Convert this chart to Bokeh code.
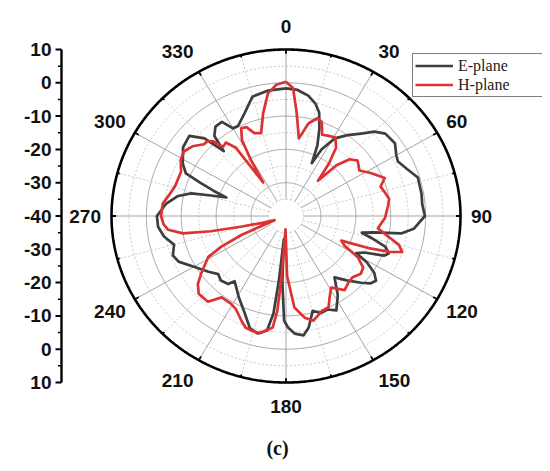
import numpy as np
from bokeh.plotting import figure
from bokeh.models import Range1d, Legend, LegendItem, Label
from bokeh.core.properties import value
from bokeh.embed import file_html
from bokeh.resources import INLINE

# ---------------- data ----------------
e_angle = [0, 5, 10, 14, 17, 20, 23, 25, 27, 31, 36, 41, 45, 49, 55, 60, 63, 68, 73, 80, 85, 90,
           96, 99, 101, 103, 105, 108, 111, 113, 116, 119, 121, 124, 127, 130, 133, 138, 143, 148,
           153, 157, 161, 165, 169, 172, 176, 179, 181, 183, 185, 186, 187, 189, 193, 197, 203, 209,
           213, 217, 219, 224, 228, 233, 240, 246, 250, 255, 260, 265, 270, 276, 281, 284, 286, 288,
           290, 292, 294, 298, 305, 311, 315, 317.5, 319.5, 323, 327, 330, 333, 339, 345, 352]
e_db = [-1.7, -2.0, -3.3, -5.2, -7.5, -12, -17, -22.5, -17.5, -12.8, -10, -7.2, -4.2, -2.3, -1.9, -3.5,
        -4, -2.5, -0.5, -0.6, -0.8, -0.2, -3.2, -6.6, -14.3, -17.7, -14.8, -10, -8.5, -9.5, -15, -17,
        -13, -9.5, -7.7, -8.5, -10.6, -14, -16.9, -12, -8.2, -9.5, -9.2, -10.5, -5.9, -3.8, -4.6, -6.5,
        -8.6, -20, -33, -20.5, -10.5, -5.2, -3.8, -4.7, -9.1, -12.1, -14, -15.5, -13.7, -13.1, -13.9,
        -12.2, -9.5, -6.3, -5.5, -6.8, -4.5, -3.2, -3.0, -5.4, -8.5, -12, -17.7, -22, -18, -13.7, -8.6,
        -6.5, -4, -3.3, -7, -13.6, -8.4, -6.4, -6.3, -9.6, -9.7, -6.9, -2.9, -2.0]

h_angle = [0, 3, 5.5, 9, 13, 17, 20, 23, 27, 31, 35, 38, 41, 43.5, 47, 51, 57, 62, 68, 72, 76, 80, 84,
           91, 98, 102, 105, 108, 110, 112, 115, 118, 121, 125, 129, 134, 138, 143, 149, 153, 156, 160,
           166, 170, 175, 179, 182, 184, 185, 186.5, 192, 196, 199, 202, 207, 211, 217, 221, 227, 231,
           234.5, 241, 243.5, 246, 249, 253, 256, 258, 260, 263, 266, 270, 276, 281, 286, 294, 299,
           303.5, 308, 312.5, 315, 317, 319, 322, 325, 327, 329, 331, 334, 337, 340, 344, 348, 352, 356]
h_db = [0.3, -1.5, -8.5, -16.4, -11.5, -9.3, -10, -13.5, -13, -12.5, -15, -20, -26, -19, -15, -13.6,
        -14.9, -12.5, -9.5, -11.5, -10.8, -10, -10.6, -11.6, -13.4, -10, -6.5, -5.0, -8.5, -14, -22.5,
        -21, -16, -13, -12.4, -13.5, -13.2, -12.1, -14.9, -12.5, -10, -9.7, -7.6, -9, -12.4, -22, -36,
        -21, -11.4, -6.3, -4, -4.2, -4.5, -6, -8.5, -9.3, -9.4, -5.9, -5.8, -7.5, -10.1, -14.5, -19.2,
        -26, -36.5, -33, -27, -18, -10, -6, -4.8, -4.2, -4.5, -6, -7, -7.1, -5.5, -4.9, -6, -8.1, -8.2,
        -9.3, -12.5, -12, -15, -28, -20.7, -14, -10.7, -11, -13.5, -14.1, -8.5, -2.8, -0.5]

angle_ticks = [0, 30, 60, 90, 120, 150, 180, 210, 240, 270, 300, 330]
angle_labels = ["0", "30", "60", "90", "120", "150", "180", "210", "240", "270", "300", "330"]
r_min, r_max, r_step = -40, 10, 10
radial_labels = ["10", "0", "-10", "-20", "-30", "-40", "-30", "-20", "-10", "0", "10"]
series_names = ["E-plane", "H-plane"]
series_colors = ["#3e3e3e", "#de3131"]

# ---------------- helpers ----------------
R = r_max - r_min


def polar(theta_deg, db):
    t = np.radians(np.asarray(theta_deg, dtype=float))
    r = np.clip(np.asarray(db, dtype=float) - r_min, 0, None)
    return r * np.sin(t), r * np.cos(t)


W, H = 542, 463
sx, sy = 3.49, 3.33            # px per radial unit (horizontal / vertical)
cx_px, cy_px = 285.5, 215.5
x0 = -cx_px / sx
y1 = cy_px / sy
p = figure(width=W, height=H, output_backend="svg", toolbar_location=None,
           x_range=Range1d(x0, x0 + W / sx), y_range=Range1d(y1 - H / sy, y1),
           x_axis_type=None, y_axis_type=None, min_border=0)
p.outline_line_color = None
p.grid.visible = False
p.background_fill_color = "white"

phi = np.linspace(0, 360, 721)
# circular grid
for v in range(r_min + 5, r_max, 5):
    gx, gy = polar(phi, np.full_like(phi, v))
    if (v - r_min) % r_step == 0:
        p.line(gx, gy, line_color="#9a9a9a", line_width=0.9)
    else:
        p.line(gx, gy, line_color="#c4c4c4", line_width=0.9, line_dash="2 2")
# spokes
r_in = r_min + 5
for a in range(0, 360, 15):
    lx, ly = polar([a, a], [r_in, r_max])
    if a % 30 == 0:
        p.line(lx, ly, line_color="#9a9a9a", line_width=0.9)
    else:
        p.line(lx, ly, line_color="#c4c4c4", line_width=0.9, line_dash="2 2")

# data curves
renderers = []
for ang, db, col in [(e_angle, e_db, series_colors[0]), (h_angle, h_db, series_colors[1])]:
    ax_, ay_ = polar(list(ang) + [ang[0] + 360], list(db) + [db[0]])
    renderers.append(p.line(ax_, ay_, line_color=col, line_width=2.7, line_join="round"))

# outer circle and ticks
ox, oy = polar(phi, np.full_like(phi, r_max))
p.line(ox, oy, line_color="black", line_width=2.6)
for a in range(0, 360, 15):
    ln = 1.3 if a % 30 == 0 else 0.7
    tx, ty = polar([a, a], [r_max - ln, r_max])
    p.line(tx, ty, line_color="black", line_width=1.8)

# angular labels
RX, RY = 185 / sx, 190 / sy
for a, lab in zip(angle_ticks, angle_labels):
    t = np.radians(a)
    s = np.sin(t)
    align = "center" if abs(s) < 1e-6 else ("left" if s > 0 else "right")
    p.text([RX * s], [RY * np.cos(t)], text=[lab], text_align=align,
           text_baseline="middle", text_font=value("Liberation Sans"), text_font_style="bold",
           text_font_size="19px", text_color="#111111")

# left radial axis
axis_x = 61 / sx + x0
yv = np.arange(-R, R + 1, r_step)
p.line([axis_x, axis_x], [-R, R], line_color="black", line_width=2.4)
for yy in np.arange(-R, R + 1, r_step / 2):
    major = (yy % r_step) == 0
    ln = (6 if major else 3.5) / sx
    p.line([axis_x - ln, axis_x], [yy, yy], line_color="black", line_width=2 if major else 1.5)
p.text(np.full(len(yv), axis_x), yv[::-1], text=radial_labels, text_align="right",
       text_baseline="middle", x_offset=-10, text_font=value("Liberation Sans"),
       text_font_style="bold", text_font_size="19px", text_color="#111111")

# legend
legend = Legend(items=[LegendItem(label=n, renderers=[r]) for n, r in zip(series_names, renderers)],
                location=(412, H - 97), orientation="vertical", margin=0, padding=2, spacing=0,
                glyph_width=38, glyph_height=19, label_height=19, label_standoff=5, label_width=86,
                label_text_font="Liberation Serif", label_text_font_size="16px",
                label_text_color="#222222", border_line_color="black", border_line_width=1.5,
                background_fill_alpha=1.0)
p.add_layout(legend)

# caption
p.add_layout(Label(x=277, y=H - 447, x_units="screen", y_units="screen", text="(c)",
                   text_align="center", text_baseline="middle", text_font="Liberation Serif",
                   text_font_style="bold", text_font_size="20px", text_color="#111111"))

open("out.html", "w").write(file_html(p, INLINE))
